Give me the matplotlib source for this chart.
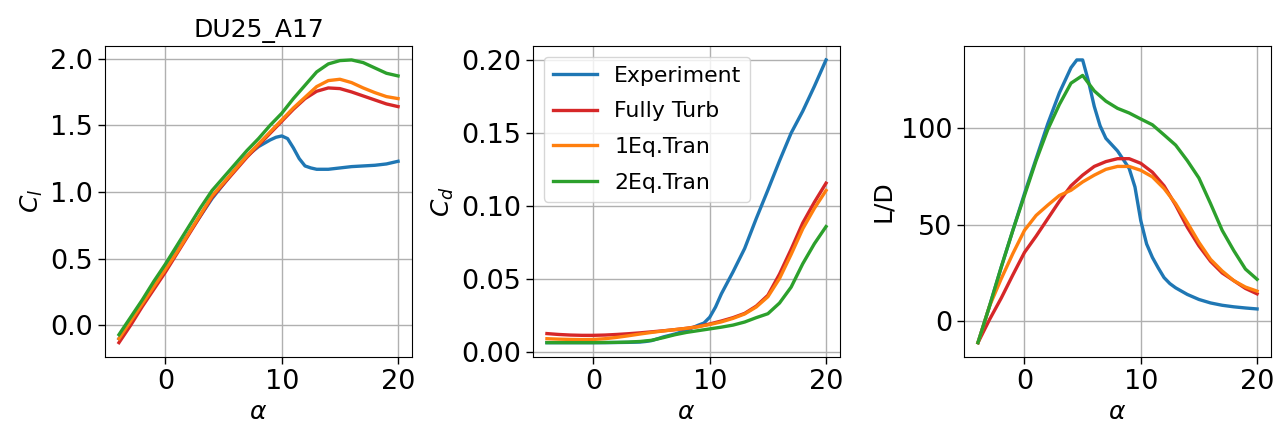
import numpy as np
import matplotlib
matplotlib.use('Agg')
import matplotlib.pyplot as plt

# angle of attack for the CFD runs
alpha = list(range(-4, 21))
# experiment has a few extra points round stall
alpha_exp = [-4, -3, -2, -1, 0, 1, 2, 3, 4, 4.5, 5, 5.5, 6, 6.5, 7, 8, 9, 9.5,
             10, 10.5, 11, 11.5, 12, 12.5, 13, 14, 15, 16, 17, 18, 19, 20]

# lift coefficient
cl_exp = [-0.10, 0.03, 0.16, 0.29, 0.43, 0.56, 0.69, 0.82, 0.95, 1.005, 1.06, 1.115, 1.17,
          1.22, 1.27, 1.34, 1.39, 1.41, 1.42, 1.40, 1.33, 1.25, 1.195, 1.18, 1.17, 1.17,
          1.18, 1.19, 1.195, 1.20, 1.21, 1.23]
cl_ft = [-0.13, 0.00, 0.14, 0.27, 0.40, 0.54, 0.68, 0.82, 0.96, 1.06, 1.16, 1.26, 1.35,
         1.44, 1.53, 1.62, 1.70, 1.755, 1.78, 1.775, 1.75, 1.72, 1.69, 1.66, 1.64]
cl_1eq = [-0.10, 0.03, 0.16, 0.29, 0.42, 0.55, 0.69, 0.83, 0.97, 1.07, 1.17, 1.27, 1.36,
          1.45, 1.54, 1.63, 1.71, 1.79, 1.835, 1.845, 1.82, 1.78, 1.745, 1.715, 1.70]
cl_2eq = [-0.07, 0.06, 0.19, 0.33, 0.46, 0.60, 0.74, 0.88, 1.01, 1.11, 1.21, 1.31, 1.40,
          1.50, 1.59, 1.70, 1.80, 1.90, 1.96, 1.985, 1.99, 1.97, 1.93, 1.89, 1.87]

# drag coefficient
cd_exp = [0.0066, 0.0066, 0.0066, 0.0066, 0.0066, 0.0066, 0.0067, 0.0068, 0.0070, 0.0074,
          0.0080, 0.0092, 0.0105, 0.0115, 0.0125, 0.0150, 0.0185, 0.0200, 0.0240, 0.0310,
          0.0400, 0.0475, 0.0550, 0.0630, 0.0710, 0.0915, 0.1110, 0.1310, 0.1500, 0.1650,
          0.1820, 0.2000]
cd_ft = [0.0128, 0.0122, 0.0118, 0.0116, 0.0116, 0.0118, 0.0122, 0.0127, 0.0133, 0.0140,
         0.0147, 0.0155, 0.0164, 0.0176, 0.0194, 0.0214, 0.0237, 0.0266, 0.0316, 0.0390,
         0.0535, 0.0705, 0.0885, 0.1027, 0.1157]
cd_1eq = [0.0093, 0.0090, 0.0088, 0.0087, 0.0088, 0.0093, 0.0102, 0.0113, 0.0125, 0.0136,
          0.0146, 0.0155, 0.0164, 0.0175, 0.0190, 0.0208, 0.0232, 0.0262, 0.0310, 0.0380,
          0.0505, 0.0670, 0.0845, 0.0985, 0.1107]
cd_2eq = [0.0066, 0.0066, 0.0066, 0.0066, 0.0066, 0.0067, 0.0068, 0.0070, 0.0074, 0.0082,
          0.0100, 0.0120, 0.0136, 0.0148, 0.0160, 0.0172, 0.0186, 0.0207, 0.0237, 0.0264,
          0.0337, 0.0446, 0.0606, 0.0743, 0.0860]

# lift to drag ratio
ld_exp = [-11, 8, 28, 47, 66, 84, 102, 118, 131, 135, 135, 124, 111, 101, 94.5, 88, 79,
          69.4, 52, 40, 33, 27.6, 22.6, 19.5, 17.3, 13.9, 11.3, 9.5, 8.3, 7.5, 6.9, 6.4]
ld_ft = [-11, 1, 12, 24, 35.6, 44, 53, 62, 70, 75.5, 80, 82.5, 84, 84, 81.6, 77, 70, 60,
         48.6, 39, 31, 25, 21, 17, 14.2]
ld_1eq = [-11, 8, 22, 35, 47, 54.7, 60, 65, 67.7, 72, 75.5, 78.5, 80, 80, 78, 74.6, 68.6,
          60.8, 51, 40.8, 32, 26, 21, 17.7, 15.6]
ld_2eq = [-11, 8, 28, 47, 65, 83, 99, 112, 123, 127, 119, 113.7, 110, 107.6, 104.5, 101.5,
          96.3, 91, 83, 74, 60.8, 47, 36.5, 27, 21.7]

labels = ['Experiment', 'Fully Turb', '1Eq.Tran', '2Eq.Tran']
colors = ['tab:blue', 'tab:red', 'tab:orange', 'tab:green']

fig = plt.figure(figsize=(12.76, 4.28), dpi=100)
w, h, b = 0.2406, 0.7266, 0.1664
ax1 = fig.add_axes([0.0823, b, w, h])
ax2 = fig.add_axes([0.4177, b, w, h])
ax3 = fig.add_axes([0.7555, b, w, h])

lw = 2.4
panels = [(ax1, [cl_exp, cl_ft, cl_1eq, cl_2eq], '$C_l$', [0.0, 0.5, 1.0, 1.5, 2.0]),
          (ax2, [cd_exp, cd_ft, cd_1eq, cd_2eq], '$C_d$', [0.0, 0.05, 0.10, 0.15, 0.20]),
          (ax3, [ld_exp, ld_ft, ld_1eq, ld_2eq], 'L/D', [0, 50, 100])]

for ax, series, ylab, yt in panels:
    ax.plot(alpha_exp, series[0], color=colors[0], lw=lw, label=labels[0])
    for s, c, lab in zip(series[1:], colors[1:], labels[1:]):
        ax.plot(alpha, s, color=c, lw=lw, label=lab)
    ax.set_xticks([0, 10, 20])
    ax.set_yticks(yt)
    ax.grid(True, lw=1.0)
    ax.tick_params(labelsize=19.5, length=5, width=1)
    ax.set_xlabel(r'$\alpha$', fontsize=18)
    ax.set_ylabel(ylab, fontsize=18, labelpad=4)

ax2.yaxis.set_major_formatter(matplotlib.ticker.FormatStrFormatter('%.2f'))
ax1.yaxis.set_major_formatter(matplotlib.ticker.FormatStrFormatter('%.1f'))
ax1.set_title('DU25_A17', fontsize=18)
ax2.legend(loc='upper left', fontsize=15.8, labelspacing=0.72)

fig.savefig('out.png', dpi=100)
